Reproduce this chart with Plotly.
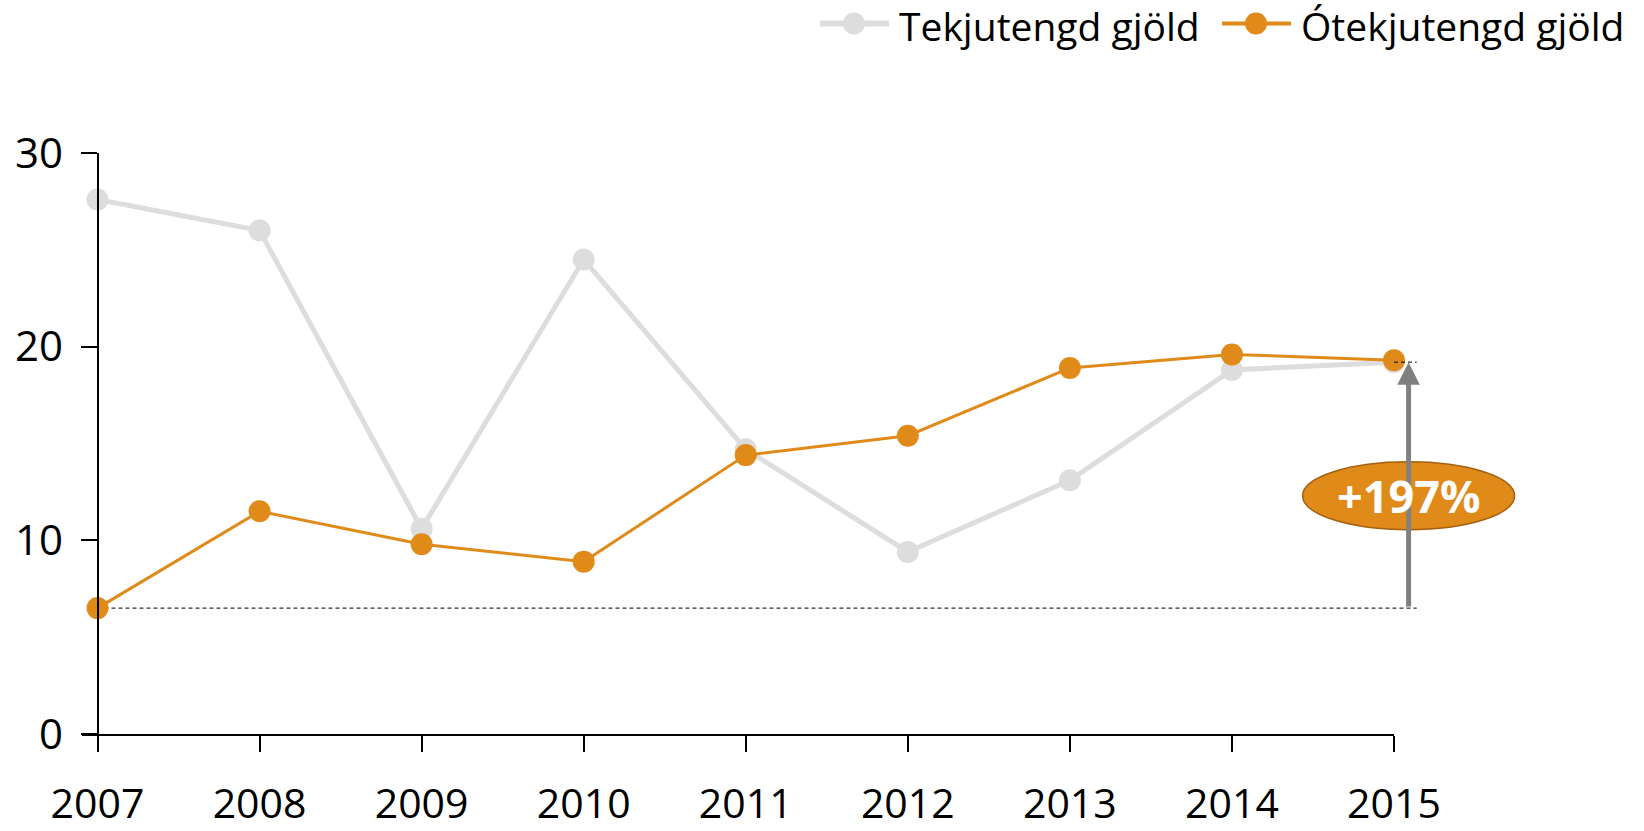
import plotly.graph_objects as go

years = [2007, 2008, 2009, 2010, 2011, 2012, 2013, 2014, 2015]
tekjutengd = [27.6, 26.0, 10.6, 24.5, 14.7, 9.4, 13.1, 18.8, 19.2]
otekjutengd = [6.5, 11.5, 9.8, 8.9, 14.4, 15.4, 18.9, 19.6, 19.3]
series_names = ["Tekjutengd gjöld", "Ótekjutengd gjöld"]
y_ticks = [0, 10, 20, 30]

GREY = "#DDDDDD"
ORANGE = "#E08A1A"
FONT = "Open Sans, Noto Sans, sans-serif"

W, H = 1644, 831
ML, MR, MT, MB = 82, 250, 153, 97
plot_w = W - ML - MR
plot_h = H - MT - MB
x_left_pad = 15.5 / 162.1
XR = [years[0] - x_left_pad, years[-1]]


def xp(x):
    """data x -> paper fraction"""
    return (x - XR[0]) / (XR[1] - XR[0])


def px2paper_x(p):
    return (p - ML) / plot_w


def px2paper_y(p):
    return (H - MB - p) / plot_h


fig = go.Figure()
fig.add_trace(go.Scatter(
    x=years, y=tekjutengd, name=series_names[0], mode="lines+markers",
    line=dict(color=GREY, width=5), marker=dict(color=GREY, size=22),
    cliponaxis=False, showlegend=False,
))
fig.add_trace(go.Scatter(
    x=years, y=otekjutengd, name=series_names[1], mode="lines+markers",
    line=dict(color=ORANGE, width=3), marker=dict(color=ORANGE, size=22),
    cliponaxis=False, showlegend=False,
))

base = otekjutengd[0]
last = otekjutengd[-1]
top_ref = tekjutengd[-1]
pct = round((last / base - 1) * 100)
x_arrow = xp(years[-1] + 0.09)
x_dash_end = xp(years[-1] + 0.14)

# dashed reference lines
fig.add_shape(type="line", xref="paper", yref="y", x0=xp(years[0]), x1=x_dash_end, y0=base, y1=base,
              line=dict(color="black", width=1, dash="4px,3px"), layer="below")
fig.add_shape(type="line", xref="paper", yref="y", x0=xp(years[-1]), x1=x_dash_end, y0=top_ref, y1=top_ref,
              line=dict(color="black", width=1, dash="4px,3px"), layer="above")

# arrow
fig.add_annotation(x=x_arrow, y=top_ref, xref="paper", yref="y",
                   ax=0, ay=(top_ref - base) * plot_h / 30.0,
                   text="", showarrow=True, arrowhead=2, arrowsize=0.9,
                   arrowwidth=5, arrowcolor="#808080", standoff=0, startstandoff=0)

# ellipse label
y_mid = 12.3
fig.add_shape(type="circle", xref="paper", yref="y", xsizemode="pixel", ysizemode="pixel",
              xanchor=x_arrow, yanchor=y_mid, x0=-106, x1=106, y0=-34, y1=34,
              fillcolor=ORANGE, line=dict(color="#A3600F", width=1.5))
fig.add_annotation(x=x_arrow, y=y_mid, xref="paper", yref="y", text=f"<b>+{pct}%</b>",
                   xanchor="center", yanchor="middle",
                   showarrow=False, font=dict(family=FONT, size=45, color="white"))

# custom legend
legend_items = [
    (series_names[0], GREY, 6, 820, 889, 854, 899),
    (series_names[1], ORANGE, 4, 1222, 1291, 1256, 1301),
]
ly = px2paper_y(23.5)
for name, col, lw, lx0, lx1, cx, tx in legend_items:
    fig.add_shape(type="line", xref="paper", yref="paper",
                  x0=px2paper_x(lx0), x1=px2paper_x(lx1), y0=ly, y1=ly,
                  line=dict(color=col, width=lw))
    fig.add_shape(type="circle", xref="paper", yref="paper", xsizemode="pixel", ysizemode="pixel",
                  xanchor=px2paper_x(cx), yanchor=ly, x0=-11, x1=11, y0=-11, y1=11,
                  fillcolor=col, line=dict(width=0))
    fig.add_annotation(x=px2paper_x(tx - 2), y=px2paper_y(25), xref="paper", yref="paper",
                       xanchor="left", yanchor="middle", text=name, showarrow=False,
                       font=dict(family=FONT, size=39, color="black"))

fig.update_layout(
    width=W, height=H,
    margin=dict(l=ML, r=MR, t=MT, b=MB, pad=0),
    paper_bgcolor="white", plot_bgcolor="white",
    font=dict(family=FONT, size=41, color="black"),
    showlegend=False,
    xaxis=dict(
        range=XR, domain=[0, 1], automargin=False,
        tickmode="array", tickvals=years, ticktext=[str(y) for y in years],
        showline=True, linecolor="black", linewidth=2,
        ticks="outside", ticklen=16, tickwidth=2, tickcolor="black",
        showgrid=False, zeroline=False, ticklabelstandoff=17,
        tickfont=dict(family=FONT, size=41, color="black"),
    ),
    yaxis=dict(
        range=[0, 30], anchor="free", position=15.5 / plot_w, automargin=False,
        tickmode="array", tickvals=y_ticks,
        showline=True, linecolor="black", linewidth=2,
        ticks="outside", ticklen=16, tickwidth=2, tickcolor="black",
        showgrid=False, zeroline=False, ticklabelstandoff=9,
        tickfont=dict(family=FONT, size=42, color="black"),
    ),
)
fig.write_html("out.html", config={"displayModeBar": False},
               post_script="document.body.style.margin='0';document.body.style.overflow='hidden';")
